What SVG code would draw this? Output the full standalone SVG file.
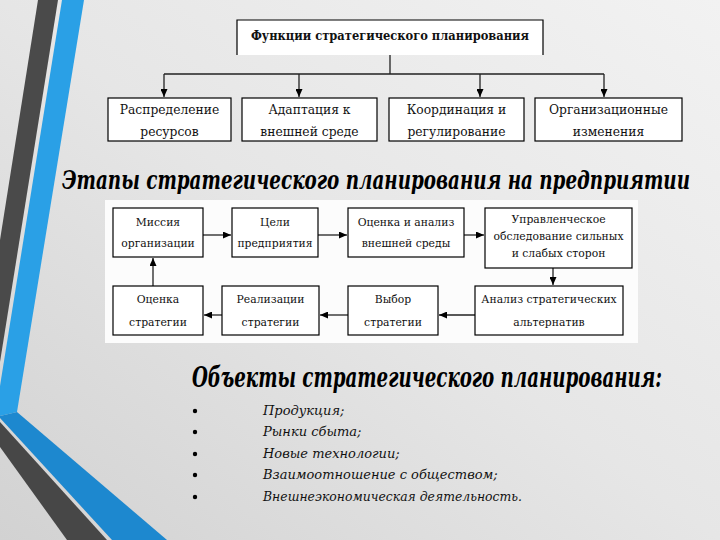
<svg xmlns="http://www.w3.org/2000/svg" width="720" height="540" viewBox="0 0 720 540">
<defs>
<linearGradient id="bg" x1="1" y1="0" x2="0" y2="1">
<stop offset="0" stop-color="#f2f2f2"/>
<stop offset="0.5" stop-color="#e6e6e6"/>
<stop offset="1" stop-color="#d2d2d2"/>
</linearGradient>
<marker id="ah" markerUnits="userSpaceOnUse" markerWidth="8" markerHeight="7" refX="8" refY="3.5" orient="auto">
<path d="M0,0 L8,3.5 L0,7 z" fill="#000"/>
</marker>
<style>
.box{fill:#fff;stroke:#000;stroke-width:1.2}
.t{font-family:'DejaVu Serif',serif;font-size:12.3px;fill:#111;text-anchor:middle}
.s{font-family:'DejaVu Serif',serif;font-size:10.8px;fill:#111;text-anchor:middle}
.h{font-family:'DejaVu Serif',serif;font-style:italic;font-weight:bold;fill:#000}
.it{font-family:'DejaVu Serif',serif;font-style:italic;font-size:13px;fill:#111}
.ln{fill:none;stroke:#222;stroke-width:1.3}
.ar{fill:none;stroke:#222;stroke-width:1.3;marker-end:url(#ah)}
</style>
</defs>
<rect width="720" height="540" fill="url(#bg)"/>
<g id="decoration">
<polygon points="38,0 58,0 0,362 0,240" fill="#4a4a4a"/>
<polygon points="62,0 84,0 17,412 0,416 0,386" fill="#2aa0e6"/>
<polygon points="17,412 167,540 112,540 0,418 0,416" fill="#1d88cf"/>
<polygon points="0,422 107,540 67,540 0,447" fill="#474747"/>
</g>
<rect x="105" y="200" width="533" height="143" fill="#fcfcfc"/>
<g id="connectors">
<path class="ln" d="M390,55 V74 M164,74 H604"/>
<path class="ar" d="M164,74 V97"/>
<path class="ar" d="M299,74 V97"/>
<path class="ar" d="M480,74 V97"/>
<path class="ar" d="M604,74 V97"/>
<path class="ar" d="M203,235 H231"/>
<path class="ar" d="M318,235 H347"/>
<path class="ar" d="M464,235 H484"/>
<path class="ar" d="M553,268 V285"/>
<path class="ar" d="M475,315 H439"/>
<path class="ar" d="M348,315 H320"/>
<path class="ar" d="M222,315 H204"/>
<path class="ar" d="M153,286 V258"/>
</g>
<g id="top">
<rect x="237" y="20" width="306" height="35" fill="#fff"/>
<path d="M237,55 V20 H543 V55" fill="none" stroke="#000" stroke-width="1.2"/>
<text class="t" x="390" y="40" font-weight="bold" font-size="11.5" textLength="278" lengthAdjust="spacingAndGlyphs">Функции стратегического планирования</text>
</g>
<g id="f1"><rect class="box" x="108" y="98" width="123" height="43"/><text class="t" x="169.5" y="114">Распределение</text><text class="t" x="169.5" y="136">ресурсов</text></g>
<g id="f2"><rect class="box" x="242" y="98" width="135" height="43"/><text class="t" x="309.5" y="114">Адаптация к</text><text class="t" x="309.5" y="136">внешней среде</text></g>
<g id="f3"><rect class="box" x="389" y="98" width="135" height="43"/><text class="t" x="456.5" y="114">Координация и</text><text class="t" x="456.5" y="136">регулирование</text></g>
<g id="f4"><rect class="box" x="535" y="98" width="147" height="43"/><text class="t" x="608.5" y="114">Организационные</text><text class="t" x="608.5" y="136">изменения</text></g>
<text class="h" x="62" y="130.3" font-size="18" transform="scale(1,1.45)" textLength="628" lengthAdjust="spacingAndGlyphs">Этапы стратегического планирования на предприятии</text>
<g id="s1"><rect class="box" x="113" y="208" width="90" height="49"/><text class="s" x="158" y="226">Миссия</text><text class="s" x="158" y="247">организации</text></g>
<g id="s2"><rect class="box" x="232" y="208" width="86" height="49"/><text class="s" x="275" y="226">Цели</text><text class="s" x="275" y="247">предприятия</text></g>
<g id="s3"><rect class="box" x="348" y="208" width="116" height="49"/><text class="s" x="406" y="226">Оценка и анализ</text><text class="s" x="406" y="247">внешней среды</text></g>
<g id="s4"><rect class="box" x="485" y="208" width="147" height="60"/><text class="s" x="558.5" y="223">Управленческое</text><text class="s" x="558.5" y="240">обследование сильных</text><text class="s" x="558.5" y="257">и слабых сторон</text></g>
<g id="s5"><rect class="box" x="475" y="286" width="148" height="49"/><text class="s" x="549" y="303">Анализ стратегических</text><text class="s" x="549" y="326">альтернатив</text></g>
<g id="s6"><rect class="box" x="348" y="286" width="90" height="49"/><text class="s" x="393" y="303">Выбор</text><text class="s" x="393" y="326">стратегии</text></g>
<g id="s7"><rect class="box" x="222" y="286" width="97" height="49"/><text class="s" x="270.5" y="303">Реализации</text><text class="s" x="270.5" y="326">стратегии</text></g>
<g id="s8"><rect class="box" x="113" y="286" width="90" height="49"/><text class="s" x="158" y="303">Оценка</text><text class="s" x="158" y="326">стратегии</text></g>
<text class="h" x="192" y="286.7" font-size="20.5" transform="scale(1,1.35)" textLength="470" lengthAdjust="spacingAndGlyphs">Объекты стратегического планирования:</text>
<g id="list">
<circle cx="195" cy="411" r="2.2" fill="#000"/>
<circle cx="195" cy="432" r="2.2" fill="#000"/>
<circle cx="195" cy="454" r="2.2" fill="#000"/>
<circle cx="195" cy="475" r="2.2" fill="#000"/>
<circle cx="195" cy="497" r="2.2" fill="#000"/>
<text class="it" x="263" y="415">Продукция;</text>
<text class="it" x="263" y="436">Рынки сбыта;</text>
<text class="it" x="263" y="458">Новые технологии;</text>
<text class="it" x="263" y="479">Взаимоотношение с обществом;</text>
<text class="it" x="263" y="501" textLength="259" lengthAdjust="spacingAndGlyphs">Внешнеэкономическая  деятельность.</text>
</g>
</svg>
